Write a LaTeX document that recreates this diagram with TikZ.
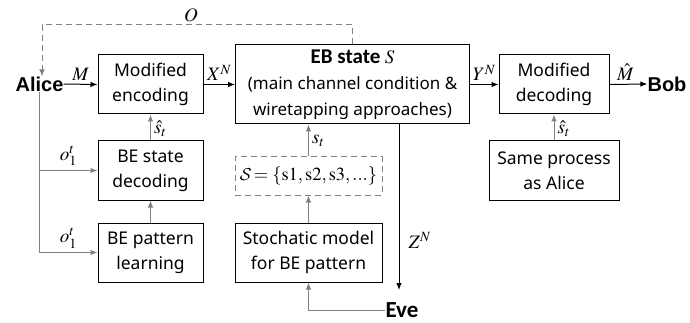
\documentclass[tikz,border=0pt]{standalone}
\usepackage{mathptmx}
\usepackage[no-math]{fontspec}
\setmainfont{Noto Sans}
\newfontfamily\armain{Liberation Sans}
\newfontfamily\calib{Carlito}
\usetikzlibrary{arrows.meta}
\definecolor{lg}{HTML}{808080}
\DeclareMathAlphabet{\mycal}{OMS}{cmsy}{m}{n}
\tikzset{
  box/.style={draw, line width=1pt, inner sep=0pt, align=center, font=\fontsize{17.5}{25}\selectfont},
  conn/.style={line width=1pt, -{Latex[length=7pt,width=5.5pt]}},
  gconn/.style={conn, draw=lg, -{Latex[length=7pt,width=5.5pt,fill=lg]}},
  gline/.style={line width=1pt, draw=lg},
  lab/.style={inner sep=0pt, font=\fontsize{19}{19}\selectfont},
  who/.style={inner sep=0pt, font=\armain\bfseries\fontsize{20}{20}\selectfont},
}
\begin{document}
\begin{tikzpicture}[x=1pt,y=-1pt]
\useasboundingbox (0,0) rectangle (690,323);
% boxes
\node[box, minimum width=105, minimum height=59] (enc) at (150.5,84.5) {Modified\\encoding};
\node[box, minimum width=234, minimum height=79, font=\fontsize{17}{26}\selectfont] (eb) at (352.5,84.5) {{\calib\bfseries\fontsize{21}{21}\selectfont EB state} {\fontsize{19}{19}\selectfont$S$}\\(main channel condition \&\\wiretapping approaches)};
\node[box, minimum width=110, minimum height=59] (dec) at (554,84.5) {Modified\\decoding};
\node[box, minimum width=130, minimum height=59] (same) at (554,170.5) {Same process\\as Alice};
\node[box, minimum width=105, minimum height=59] (bsd) at (150.5,170.5) {BE state\\decoding};
\node[box, minimum width=105, minimum height=59] (bpl) at (150.5,252.5) {BE pattern\\learning};
\node[box, draw=lg, dashed, dash pattern=on 6pt off 4pt, minimum width=147, minimum height=38] (set) at (308.5,176) {\fontsize{18.5}{18.5}\selectfont$\mycal{S}\!=\{\mathrm{s1,s2,s3,...}\}$};
\node[box, minimum width=147, minimum height=59] (sto) at (308.5,252.5) {Stochatic model\\for BE pattern};
% actors
\node[who] (alice) at (39.5,84) {Alice};
\node[who] (bob) at (667,84) {Bob};
\node[inner sep=0pt, font=\calib\bfseries\fontsize{23}{23}\selectfont] (eve) at (402,310) {Eve};
\coordinate (otop) at (42,25);
\coordinate (zend) at (399,290);
% main chain
\draw[conn] (alice.east) -- node[lab, above=3pt]{$M$} (enc.west);
\draw[conn] (enc.east) -- node[lab, above=3pt]{$X^N$} (eb.west);
\draw[conn] (eb.east) -- node[lab, above=3pt]{$Y^N$} (dec.west);
\draw[conn] (dec.east) -- node[lab, above=3pt, xshift=-3pt]{$\hat{M}$} (bob.west);
\draw[conn] (zend |- eb.south) -- node[lab, right=9pt, pos=0.7]{$Z^N$} (zend);
% feedback O
\draw[gconn, dashed, dash pattern=on 6pt off 4pt] (eb.north) |- (otop) node[lab, pos=0.76, above=3pt, text=black]{$O$} -- (otop |- alice.north);
% Alice side
\draw[gline] (alice.south) -- (alice.south |- bpl.west);
\draw[gconn] (alice.south |- bpl.west) -- node[lab, above=4pt]{$o_1^t$} (bpl.west);
\draw[gconn] (alice.south |- bsd.west) -- node[lab, above=4pt]{$o_1^t$} (bsd.west);
\draw[gconn] (bpl.north) -- (bsd.south);
\draw[gconn] (bsd.north) -- node[lab, right=3pt, pos=0.45]{$\hat{s}_t$} (enc.south);
\draw[gconn] (same.north) -- node[lab, right=3pt, pos=0.45]{$\hat{s}_t$} (dec.south);
\draw[gconn] (set.north) -- node[lab, right=3pt]{$s_t$} (set.north |- eb.south);
\draw[gconn] (sto.north) -- (set.south);
\draw[gconn] (eve.west) -| (sto.south);
\end{tikzpicture}
\end{document}
